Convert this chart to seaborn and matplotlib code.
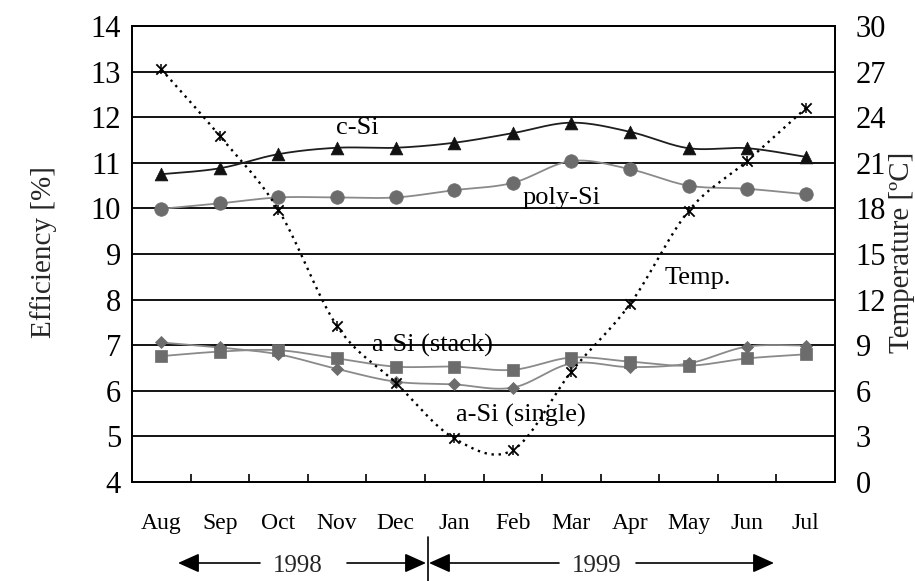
import numpy as np
import pandas as pd
import matplotlib
matplotlib.use("Agg")
import matplotlib.pyplot as plt
from matplotlib.lines import Line2D
import seaborn as sns

months = ["Aug", "Sep", "Oct", "Nov", "Dec", "Jan", "Feb", "Mar", "Apr", "May", "Jun", "Jul"]
c_si = [10.75, 10.88, 11.19, 11.33, 11.33, 11.44, 11.65, 11.88, 11.68, 11.32, 11.32, 11.13]
poly_si = [9.99, 10.11, 10.24, 10.24, 10.24, 10.40, 10.56, 11.04, 10.86, 10.50, 10.43, 10.31]
a_si_stack = [6.76, 6.86, 6.89, 6.71, 6.53, 6.53, 6.46, 6.73, 6.64, 6.55, 6.71, 6.80]
a_si_single = [7.06, 6.95, 6.80, 6.48, 6.20, 6.14, 6.07, 6.60, 6.52, 6.60, 6.97, 6.99]
temp = [27.15, 22.76, 17.9, 10.26, 6.53, 2.87, 2.1, 7.26, 11.7, 17.83, 21.12, 24.59]
eff_ticks = list(range(4, 15))
temp_ticks = list(range(0, 31, 3))
series_labels = ["c-Si", "poly-Si", "a-Si (stack)", "a-Si (single)", "Temp."]
year_labels = ["1998", "1999"]

sns.set_theme(style="white")
plt.rcParams["font.family"] = ["Liberation Serif", "DejaVu Serif"]

W, H = 915, 581
fig = plt.figure(figsize=(W / 100, H / 100), dpi=100)
L, R, T, B = 132, 835, 26, 482
ax = fig.add_axes([L / W, 1 - B / H, (R - L) / W, (B - T) / H])
ax2 = ax.twinx()

xpos = np.arange(len(months))


def smooth(vals, n=24):
    """Excel-style (Catmull-Rom) smoothed path through the points."""
    y = np.asarray(vals, float)
    x = np.arange(len(y), dtype=float)
    px = np.concatenate([[x[0]], x, [x[-1]]])
    py = np.concatenate([[y[0]], y, [y[-1]]])
    xs, ys = [], []
    t = np.linspace(0, 1, n, endpoint=False)
    for i in range(len(y) - 1):
        for p, out in ((px, xs), (py, ys)):
            p0, p1, p2, p3 = p[i], p[i + 1], p[i + 2], p[i + 3]
            out.extend(0.5 * (2 * p1 + (-p0 + p2) * t + (2 * p0 - 5 * p1 + 4 * p2 - p3) * t ** 2
                              + (-p0 + 3 * p1 - 3 * p2 + p3) * t ** 3))
    xs.append(x[-1]); ys.append(y[-1])
    return np.array(xs), np.array(ys)


def draw(axis, vals, line_color, marker, mcolor, s, ls="-", lw=1.3, z=3):
    sx, sy = smooth(vals)
    sns.lineplot(x=sx, y=sy, ax=axis, color=line_color, lw=lw, linestyle=ls,
                 sort=False, estimator=None, zorder=z)
    sns.scatterplot(x=xpos, y=vals, ax=axis, marker=marker, color=mcolor, s=s,
                    edgecolor=mcolor, linewidth=0.5, zorder=z + 1)


draw(ax, c_si, "#1e1e1e", "^", "#111111", 85)
draw(ax, poly_si, "#8a8a8a", "o", "#6c6c6c", 95)
draw(ax, a_si_stack, "#8a8a8a", "s", "#6c6c6c", 70)
draw(ax, a_si_single, "#8a8a8a", "D", "#6c6c6c", 38)

# Temperature (right axis)
tx, ty = smooth(temp)
sns.lineplot(x=tx, y=ty, ax=ax2, color="black", lw=1.7, linestyle=(0, (1, 2.0)),
             sort=False, estimator=None, zorder=5)
sns.scatterplot(x=xpos, y=temp, ax=ax2, marker="x", color="black", s=55, linewidth=1.3, zorder=6)
sns.scatterplot(x=xpos, y=temp, ax=ax2, marker="|", color="black", s=45, linewidth=1.1, zorder=6)

# axes limits / ticks
ax.set_xlim(-0.5, len(months) - 0.5)
ax.set_ylim(eff_ticks[0], eff_ticks[-1])
ax2.set_ylim(temp_ticks[0], temp_ticks[-1])
ax.set_yticks(eff_ticks)
ax.set_yticklabels([str(v) for v in eff_ticks], fontsize=22)
ax2.set_yticks(temp_ticks)
ax2.set_yticklabels([str(v) for v in temp_ticks], fontsize=22)
ax.tick_params(axis="y", length=0, pad=8, colors="black")
ax2.tick_params(axis="y", length=0, pad=15, colors="black")

ax.set_xticks(np.arange(0.5, len(months) - 1, 1.0))
ax.set_xticklabels([])
ax.set_xticks(xpos, minor=True)
ax.set_xticklabels(months, minor=True, fontsize=17)
ax.tick_params(axis="x", which="major", direction="in", length=6, width=1.2, color="black",
               bottom=True)
ax.tick_params(axis="x", which="minor", length=0, pad=22, colors="black")

ax.grid(False); ax2.grid(False)
for v in eff_ticks[1:-1]:
    ax.axhline(v, color="black", lw=1.3, zorder=1)
for a in (ax, ax2):
    for sp in a.spines.values():
        sp.set_color("black")
        sp.set_linewidth(1.3)
ax.set_xlabel(""); ax.set_ylabel(""); ax2.set_ylabel("")

# series labels
lab_pos = [(3.34, 11.76), (6.84, 10.23), (4.62, 7.0), (6.14, 5.45), (9.16, 8.47)]
for txt, (lx, ly) in zip(series_labels, lab_pos):
    ax.text(lx, ly, txt, fontsize=19, ha="center", va="center", color="black", zorder=7)

# axis titles
fig.text(44 / W, 1 - 252 / H, "Efficiency [%]", rotation=90, ha="center", va="center", fontsize=21)
fig.text(902 / W, 1 - 252 / H, "Temperature [ºC]", rotation=90, ha="center", va="center", fontsize=21)

# year arrows
ya = 18
arrow_kw = dict(arrowstyle="-|>,head_length=1.0,head_width=0.45", color="black", lw=1.2,
                shrinkA=0, shrinkB=0, mutation_scale=13)
for (x0, x1) in [(260, 178), (347, 426), (559, 429), (636, 774)]:
    ax.annotate("", xy=(x1, ya), xytext=(x0, ya), xycoords="figure pixels",
                textcoords="figure pixels", arrowprops=arrow_kw, annotation_clip=False)
fig.text(298 / W, 1 - 566 / H, year_labels[0], ha="center", va="center", fontsize=18)
fig.text(597 / W, 1 - 566 / H, year_labels[1], ha="center", va="center", fontsize=18)
fig.add_artist(Line2D([427.5 / W, 427.5 / W], [0, 44 / H], color="black", lw=1.2,
                      transform=fig.transFigure))

fig.savefig("out.png", dpi=100, facecolor="white")
